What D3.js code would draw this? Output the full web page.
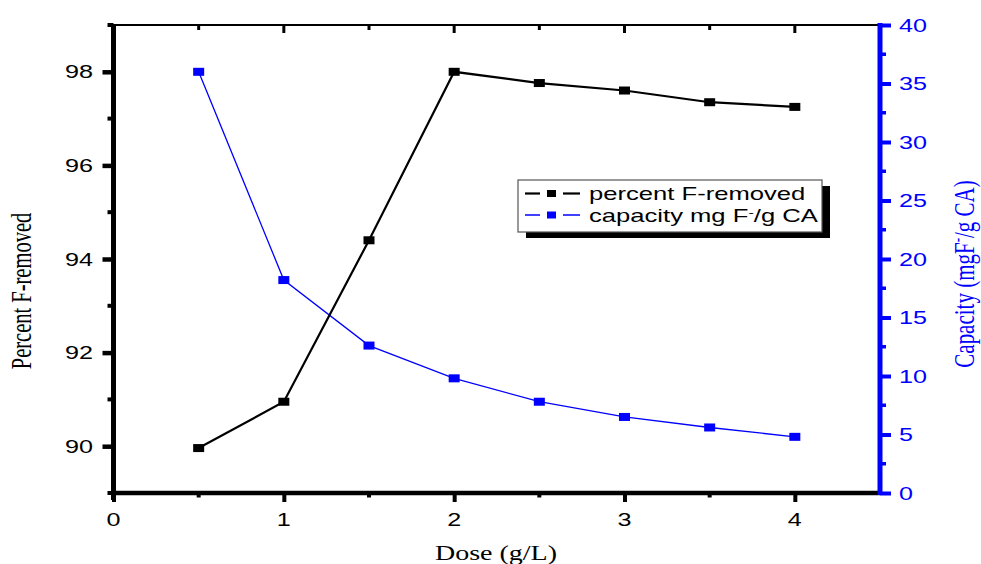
<!DOCTYPE html>
<html><head><meta charset="utf-8">
<script src="https://cdn.jsdelivr.net/npm/d3@7"></script>
<style>body{margin:0;background:#fff}</style>
</head><body>
<svg id="c" width="981" height="564"></svg>
<script>
const dose = [0.5, 1, 1.5, 2, 2.5, 3, 3.5, 4];
const percentRemoved = [89.96, 90.95, 94.4, 98.0, 97.76, 97.6, 97.35, 97.25];
const capacity = [36.0, 18.2, 12.6, 9.8, 7.8, 6.5, 5.6, 4.8];
const xTicks = [0, 1, 2, 3, 4];
const leftTicks = [90, 92, 94, 96, 98];
const rightTicks = [0, 5, 10, 15, 20, 25, 30, 35, 40];

const SX = 1.4; // horizontal stretch of the original figure
const ARIAL = "Arial, 'Liberation Sans', sans-serif";
const TIMES = "'Liberation Serif', 'Times New Roman', serif";
const svg = d3.select("#c");
const L = 113.5, R = 880, T = 25, B = 493;
const x = d3.scaleLinear().domain([0, 4.5]).range([L, R]);
const yL = d3.scaleLinear().domain([89, 99]).range([B, T]);
const yR = d3.scaleLinear().domain([0, 40]).range([B, T]);
const blue = "#0000ff";

function stext(px, py, anchor, size, fill, family, str) {
  return svg.append("text").attr("transform", `translate(${px},${py}) scale(${SX},1)`)
    .attr("text-anchor", anchor).attr("font-family", family).attr("font-size", size).attr("fill", fill).text(str);
}

// top border with inward ticks
svg.append("line").attr("x1", L).attr("x2", R).attr("y1", T).attr("y2", T).attr("stroke", "#000").attr("stroke-width", 2);
d3.range(0.5, 4.51, 0.5).forEach(v => {
  const major = Math.abs(v - Math.round(v)) < 1e-6;
  svg.append("line").attr("x1", x(v)).attr("x2", x(v)).attr("y1", T).attr("y2", T + (major ? 8 : 5))
    .attr("stroke", "#000").attr("stroke-width", 3);
});

// bottom axis
const gx = svg.append("g").attr("transform", `translate(0,${B})`)
  .call(d3.axisBottom(x).tickValues(xTicks).tickFormat("").tickSize(9));
gx.select(".domain").attr("stroke-width", 4.5).attr("d", `M${L - 2},0H${R}`);
gx.selectAll(".tick line").attr("stroke-width", 4);
[0.5, 1.5, 2.5, 3.5].forEach(v => gx.append("line").attr("x1", x(v)).attr("x2", x(v)).attr("y1", 0).attr("y2", 4.5).attr("stroke", "#000").attr("stroke-width", 4));
xTicks.forEach(v => stext(x(v), 526, "middle", 18, "#000", ARIAL, d3.format("d")(v)));

// left axis
const gl = svg.append("g").attr("transform", `translate(${L},0)`)
  .call(d3.axisLeft(yL).tickValues(leftTicks).tickFormat("").tickSize(11));
gl.select(".domain").attr("stroke-width", 5).attr("d", `M0,${B + 7}V${T - 1}`);
gl.selectAll(".tick line").attr("stroke-width", 4.5);
[89, 91, 93, 95, 97, 99].forEach(v => gl.append("line").attr("x1", 0).attr("x2", -6).attr("y1", yL(v)).attr("y2", yL(v)).attr("stroke", "#000").attr("stroke-width", 4));
leftTicks.forEach(v => stext(93, yL(v) + 6.5, "end", 18, "#000", ARIAL, d3.format("d")(v)));

// right axis
const gr = svg.append("g").attr("transform", `translate(${R},0)`)
  .call(d3.axisRight(yR).tickValues(rightTicks).tickFormat("").tickSize(11));
gr.select(".domain").attr("stroke", blue).attr("stroke-width", 5).attr("d", `M0,${B + 2}V${T - 2}`);
gr.selectAll(".tick line").attr("stroke", blue).attr("stroke-width", 4);
d3.range(2.5, 40, 5).forEach(v => gr.append("line").attr("x1", 0).attr("x2", 6).attr("y1", yR(v)).attr("y2", yR(v)).attr("stroke", blue).attr("stroke-width", 3.5));
rightTicks.forEach(v => stext(899, yR(v) + 6.5, "start", 18, blue, ARIAL, d3.format("d")(v)));

// series
const lineL = d3.line().x((d, i) => x(dose[i])).y(d => yL(d));
const lineR = d3.line().x((d, i) => x(dose[i])).y(d => yR(d));
svg.append("path").attr("d", lineR(capacity)).attr("fill", "none").attr("stroke", blue).attr("stroke-width", 1.3);
svg.append("path").attr("d", lineL(percentRemoved)).attr("fill", "none").attr("stroke", "#000").attr("stroke-width", 2.2);
const mw = 11, mh = 8;
svg.selectAll(".mb").data(capacity).enter().append("rect")
  .attr("x", (d, i) => x(dose[i]) - mw / 2).attr("y", d => yR(d) - mh / 2).attr("width", mw).attr("height", mh).attr("fill", blue);
svg.selectAll(".mk").data(percentRemoved).enter().append("rect")
  .attr("x", (d, i) => x(dose[i]) - mw / 2).attr("y", d => yL(d) - mh / 2).attr("width", mw).attr("height", mh).attr("fill", "#000");

// axis titles
svg.append("text").attr("transform", `translate(31,291) scale(${SX},1) rotate(-90)`).attr("text-anchor", "middle")
  .attr("font-family", TIMES).attr("font-size", 20.5).attr("fill", "#000").text("Percent F-removed");
const rt = svg.append("text").attr("transform", `translate(974,274) scale(${SX},1) rotate(-90)`).attr("text-anchor", "middle")
  .attr("font-family", TIMES).attr("font-size", 21).attr("fill", blue);
rt.append("tspan").text("Capacity (mgF");
rt.append("tspan").attr("dy", -8).attr("font-size", 13).text("-");
rt.append("tspan").attr("dy", 8).text("/g CA)");
stext(496, 560, "middle", 20, "#000", TIMES, "Dose (g/L)");

// legend
const lx = 518, ly = 180, lw = 304, lh = 52;
svg.append("rect").attr("x", lx + 8).attr("y", ly + 6).attr("width", lw).attr("height", lh).attr("fill", "#000");
svg.append("rect").attr("x", lx).attr("y", ly).attr("width", lw).attr("height", lh).attr("fill", "#fff").attr("stroke", "#555").attr("stroke-width", 1.2);
const items = [
  {c: "#000", w: 2.2, parts: [["percent F-removed", 0]]},
  {c: blue, w: 1.5, parts: [["capacity mg F", 0], ["-", -6], ["/g CA", 6]]}
];
items.forEach((it, i) => {
  const yy = ly + 13.5 + i * 21.5;
  svg.append("line").attr("x1", lx + 7).attr("x2", lx + 22).attr("y1", yy).attr("y2", yy).attr("stroke", it.c).attr("stroke-width", it.w);
  svg.append("line").attr("x1", lx + 45).attr("x2", lx + 62).attr("y1", yy).attr("y2", yy).attr("stroke", it.c).attr("stroke-width", it.w);
  svg.append("rect").attr("x", lx + 29).attr("y", yy - 3.5).attr("width", 9).attr("height", 7).attr("fill", it.c);
  const t = svg.append("text").attr("transform", `translate(${lx + 71},${yy + 6.5}) scale(${SX},1)`)
    .attr("font-family", ARIAL).attr("font-size", 18.3).attr("fill", "#000");
  it.parts.forEach(p => {
    const s = t.append("tspan").attr("dy", p[1]).text(p[0]);
    if (p[1] < 0) s.attr("font-size", 11.5);
  });
});
</script>
</body></html>
